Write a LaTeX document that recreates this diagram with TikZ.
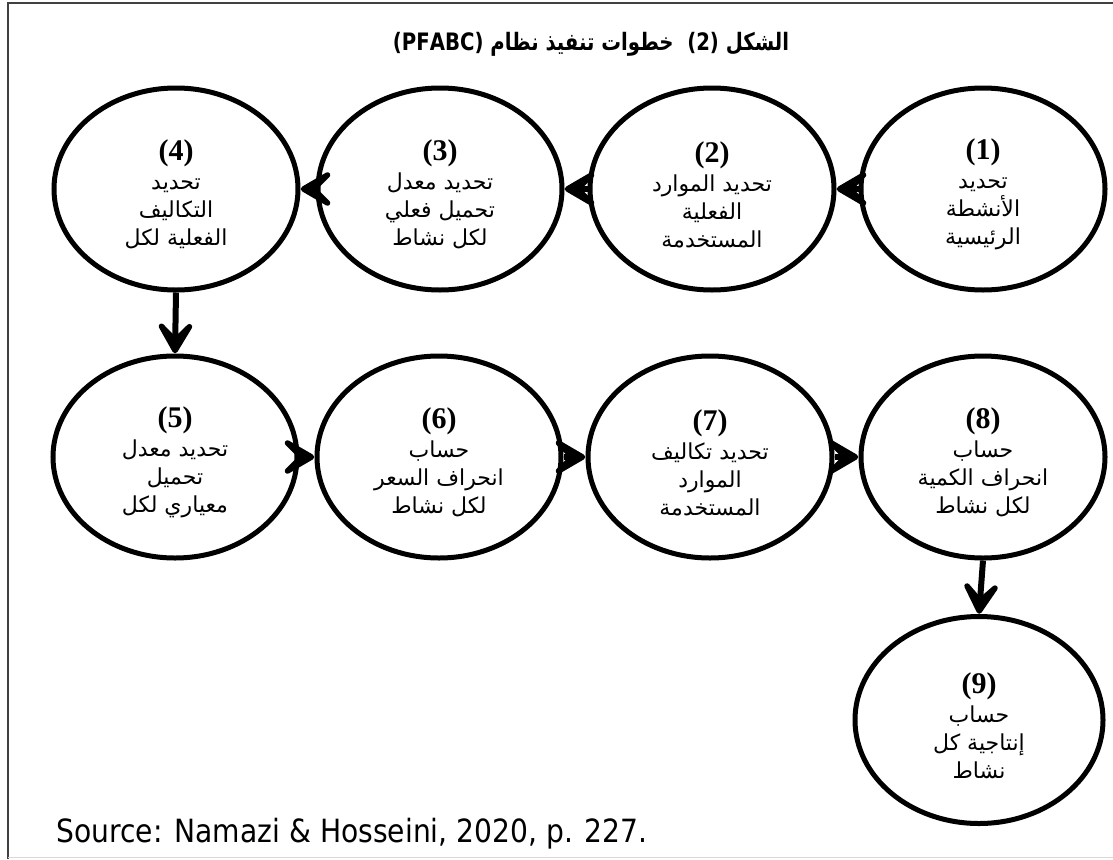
\documentclass[tikz,border=0pt]{standalone}
\usepackage{fontspec}
\setmainfont{Liberation Serif}
\newfontfamily\arabicfont[Script=Arabic]{DejaVu Sans}
\newfontfamily\titlefont[Script=Arabic,FakeStretch=0.82]{DejaVu Sans}
\newfontfamily\srcfont[FakeStretch=0.88]{DejaVu Sans}
\TeXXeTstate=1
\usetikzlibrary{shapes.geometric,decorations.markings}
\newcommand\ar[1]{{\arabicfont\beginR #1\endR}}
\newcommand\stepnum[1]{{\rule{0pt}{32pt}\fontsize{30}{30}\selectfont\bfseries (#1)}}
\tikzset{
  stepnode/.style={ellipse, draw, line width=5pt, minimum width=244pt, minimum height=202pt,
    inner sep=0pt, align=center, font=\fontsize{22}{28}\selectfont},
  conn/.style={line width=6pt, shorten >=6pt, postaction={decorate},
    decoration={markings, mark=at position 1 with {
      \filldraw[line width=5.5pt, line join=round, line cap=round, shorten >=0pt, shorten <=0pt]
        (-3,0) -- (-27,14) -- (-13,0) -- (-27,-14) -- cycle;}}},
  frameline/.style={line width=2pt, draw=black!75}
}
\begin{document}
\begin{tikzpicture}[x=1pt,y=-1pt]
\useasboundingbox (0,0) rectangle (1113,859);
\draw[frameline] (1113,3) -- (8,3) -- (8,859);
\draw[line width=1pt, draw=black!15] (8,857.5) -- (1113,857.5);
\node (title) at (591,44) {\titlefont\bfseries\fontsize{24}{28}\selectfont\beginR الشكل \beginL(2)\endL{}\ \ خطوات تنفيذ نظام \beginL(PFABC)\endL\endR};
\node[stepnode] (e1) at (983,189) {\stepnum{1}\\[1pt] \ar{تحديد}\\ \ar{الأنشطة}\\ \ar{الرئيسية}};
\node[stepnode] (e2) at (712,189) {\stepnum{2}\\[1pt] \ar{تحديد الموارد}\\ \ar{الفعلية}\\ \ar{المستخدمة}};
\node[stepnode] (e3) at (440,189) {\stepnum{3}\\[1pt] \ar{تحديد معدل}\\ \ar{تحميل فعلي}\\ \ar{لكل نشاط}};
\node[stepnode] (e4) at (176,189) {\stepnum{4}\\[1pt] \ar{تحديد}\\ \ar{التكاليف}\\ \ar{الفعلية لكل}};
\node[stepnode] (e5) at (175,457) {\stepnum{5}\\[1pt] \ar{تحديد معدل}\\ \ar{تحميل}\\ \ar{معياري لكل}};
\node[stepnode] (e6) at (439,457) {\stepnum{6}\\[1pt] \ar{حساب}\\ \ar{انحراف السعر}\\ \ar{لكل نشاط}};
\node[stepnode] (e7) at (710,457) {\stepnum{7}\\[1pt] \ar{تحديد تكاليف}\\ \ar{الموارد}\\ \ar{المستخدمة}};
\node[stepnode] (e8) at (983,457) {\stepnum{8}\\[1pt] \ar{حساب}\\ \ar{انحراف الكمية}\\ \ar{لكل نشاط}};
\node[stepnode, minimum width=248pt, minimum height=207pt] (e9) at (979,720) {\stepnum{9}\\[1pt] \ar{حساب}\\ \ar{إنتاجية كل}\\ \ar{نشاط}};
\draw[conn] (e1.west) -- (e2.east);
\draw[conn] (e2.west) -- (e3.east);
\draw[conn] (e3.west) -- (e4.east);
\draw[conn] (e4.south) -- (e5.north);
\draw[conn] (e5.east) -- (e6.west);
\draw[conn] (e6.east) -- (e7.west);
\draw[conn] (e7.east) -- (e8.west);
\draw[conn] (e8.south) -- (e9.north);
\node[anchor=base west] (src) at (53,842) {\srcfont\fontsize{32}{36}\selectfont Source: Namazi \& Hosseini, 2020, p. 227.};
\end{tikzpicture}
\end{document}
